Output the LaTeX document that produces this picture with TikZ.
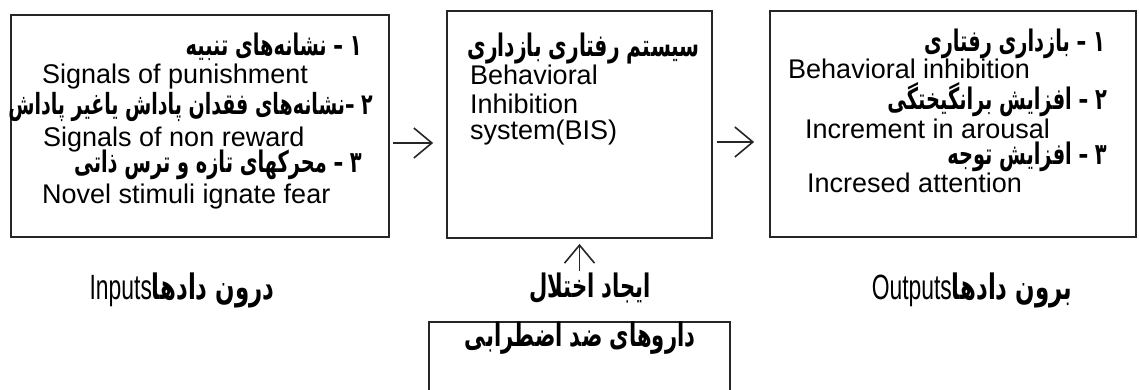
\documentclass[tikz,border=0pt]{standalone}
\usepackage{graphicx}
\usepackage{fontspec}
\setmainfont{Liberation Sans}
\newfontfamily\fa[Script=Arabic]{DejaVu Sans}
\TeXXeTstate=1
\usetikzlibrary{arrows.meta,positioning}
\newcommand\fatext[1]{\scalebox{0.88}[1.35]{\fa\bfseries\beginR #1\endR}}

\begin{document}
\begin{tikzpicture}[x=1pt,y=-1pt,
  box/.style={draw=black!85,line width=1.8pt,inner sep=0pt},
  en/.style={font=\fontsize{27}{30}\selectfont,inner sep=0pt,anchor=west},
  fa/.style={font=\fontsize{22}{26}\selectfont,inner sep=0pt,anchor=east},
  lbl/.style={font=\fontsize{24}{28}\selectfont,inner sep=0pt},
  arr/.style={-{Straight Barb[length=18pt,width=30pt,line width=1.6pt]},line width=1.6pt,draw=black!85}]
  \useasboundingbox (0,0) rectangle (1139,390);
  \clip (0,0) rectangle (1139,390);
  % boxes
  \node[box,minimum width=378pt,minimum height=222pt] (inbox) at (200,126) {};
  \node[box,minimum width=265pt,minimum height=227pt] (bis) at (579.5,124.5) {};
  \node[box,minimum width=366pt,minimum height=226pt] (outbox) at (953,124) {};
  \node[box,minimum width=301pt,minimum height=140pt] (drug) at (579.5,392) {};
  % inputs
  \node[fa] (in1) at (362,47) {\fatext{۱ – نشانه‌های تنبیه}};
  \node[en] (in2) at (42,77) {Signals of punishment};
  \node[fa,font=\fontsize{21.6}{26}\selectfont] (in3) at (373,107) {\fatext{۲ –نشانه‌های فقدان پاداش یاغیر پاداش}};
  \node[en] (in4) at (43,140) {Signals of non reward};
  \node[fa] (in5) at (362,165) {\fatext{۳ – محرکهای تازه و ترس ذاتی}};
  \node[en] (in6) at (42,197) {Novel stimuli ignate fear};
  % system
  \node[fa,font=\fontsize{23}{26}\selectfont] (bis1) at (700,48) {\fatext{سیستم رفتاری بازداری}};
  \node[en] (bis2) at (470,75) {Behavioral};
  \node[en] (bis3) at (470,104) {Inhibition};
  \node[en] (bis4) at (470,133) {system(BIS)};
  % outputs
  \node[fa] (out1) at (1105,44) {\fatext{۱ – بازداری رفتاری}};
  \node[en] (out2) at (788,69) {Behavioral inhibition};
  \node[fa] (out3) at (1107,100) {\fatext{۲ – افزایش برانگیختگی}};
  \node[en] (out4) at (805,129) {Increment in arousal};
  \node[fa] (out5) at (1107,157) {\fatext{۳ – افزایش توجه}};
  \node[en] (out6) at (807,183) {Incresed attention};
  % labels
  \node[lbl,font=\fontsize{26}{30}\selectfont] (inlbl) at (182,290) {\fatext{درون دادها\beginL{\normalfont Inputs}\endL}};
  \node[lbl] (disturb) at (590,288) {\fatext{ایجاد اختلال}};
  \node[lbl,font=\fontsize{26}{30}\selectfont] (outlbl) at (972,290) {\fatext{برون دادها\beginL{\normalfont Outputs}\endL}};
  \node[lbl] (drug1) at (580,338) {\fatext{داروهای ضد اضطرابی}};
  % arrows
  \draw[arr,shorten <=3pt,shorten >=13pt] ([yshift=-17pt]inbox.east) -- ([yshift=-18.5pt]bis.west);
  \draw[arr,shorten <=4pt,shorten >=15pt] ([yshift=-17.5pt]bis.east) -- ([yshift=-18pt]outbox.west);
  \draw[arr,shorten <=2pt,shorten >=5pt] (disturb.north -| bis.south) -- (bis.south);
\end{tikzpicture}
\end{document}
